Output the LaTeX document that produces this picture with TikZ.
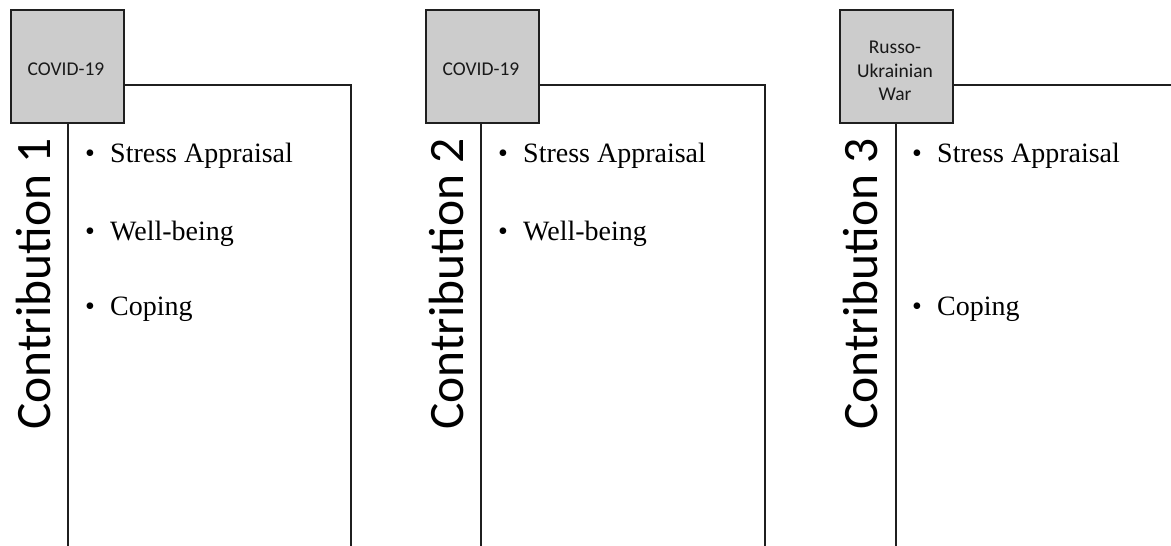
\documentclass[tikz,border=0pt]{standalone}
\usepackage{fontspec}
\setmainfont{Liberation Serif}
\newfontfamily\carlito{Carlito}
\begin{document}
\begin{tikzpicture}[x=1pt,y=-1pt,
  rulecol/.style={draw=black!88, line width=2pt},
  evt/.style={rulecol, fill=gray!40, minimum width=113pt, minimum height=113pt, inner sep=0pt, anchor=north west},
  evtlabel/.style={font=\carlito\fontsize{19.5}{23.5}\selectfont, align=center, text=black!90, inner sep=0pt},
  contrib/.style={font=\carlito\fontsize{49.5}{56}\selectfont, rotate=90, anchor=base, inner sep=0pt},
  itemtext/.style={font=\fontsize{28}{32}\selectfont, anchor=base west, inner sep=0pt},
  bul/.style={font=\fontsize{28}{32}\selectfont, anchor=base, inner sep=0pt}]
\useasboundingbox (0,0) rectangle (1171,546);

% ---------- Panel 1 ----------
\node[evt] (b1) at (9.5,8.5) {};
\node[evtlabel] (l1) at (66,69) {COVID-19};
\coordinate (t1) at (351,85);
\coordinate (r1) at (351,546);
\coordinate (v1) at (68,546);
\draw[rulecol] (b1.east |- t1) -- (t1) -- (r1);
\draw[rulecol] (b1.south -| v1) -- (v1);
\node[contrib] (c1) at (50,284) {Contribution 1};
\node[bul] (p1a) at (90,162) {\textbullet};
\node[itemtext] (i1a) at (110,162) {Stress Appraisal};
\node[bul] (p1b) at (90,240) {\textbullet};
\node[itemtext] (i1b) at (110,240) {Well-being};
\node[bul] (p1c) at (90,315) {\textbullet};
\node[itemtext] (i1c) at (110,315) {Coping};

% ---------- Panel 2 ----------
\node[evt] (b2) at (424.5,9) {};
\node[evtlabel] (l2) at (481,69) {COVID-19};
\coordinate (t2) at (765,85);
\coordinate (r2) at (765,546);
\coordinate (v2) at (481,546);
\draw[rulecol] (b2.east |- t2) -- (t2) -- (r2);
\draw[rulecol] (b2.south -| v2) -- (v2);
\node[contrib] (c2) at (463,284) {Contribution 2};
\node[bul] (p2a) at (503,162) {\textbullet};
\node[itemtext] (i2a) at (523,162) {Stress Appraisal};
\node[bul] (p2b) at (503,240) {\textbullet};
\node[itemtext] (i2b) at (523,240) {Well-being};

% ---------- Panel 3 ----------
\node[evt] (b3) at (838.5,9) {};
\node[evtlabel] (l3) at (895,71) {Russo-\\Ukrainian\\War};
\coordinate (t3) at (1172,85);
\coordinate (v3) at (895.5,546);
\draw[rulecol] (b3.east |- t3) -- (t3);
\draw[rulecol] (b3.south -| v3) -- (v3);
\node[contrib] (c3) at (877,284) {Contribution 3};
\node[bul] (p3a) at (917,162) {\textbullet};
\node[itemtext] (i3a) at (937,162) {Stress Appraisal};
\node[bul] (p3c) at (917,315) {\textbullet};
\node[itemtext] (i3c) at (937,315) {Coping};
\end{tikzpicture}
\end{document}
